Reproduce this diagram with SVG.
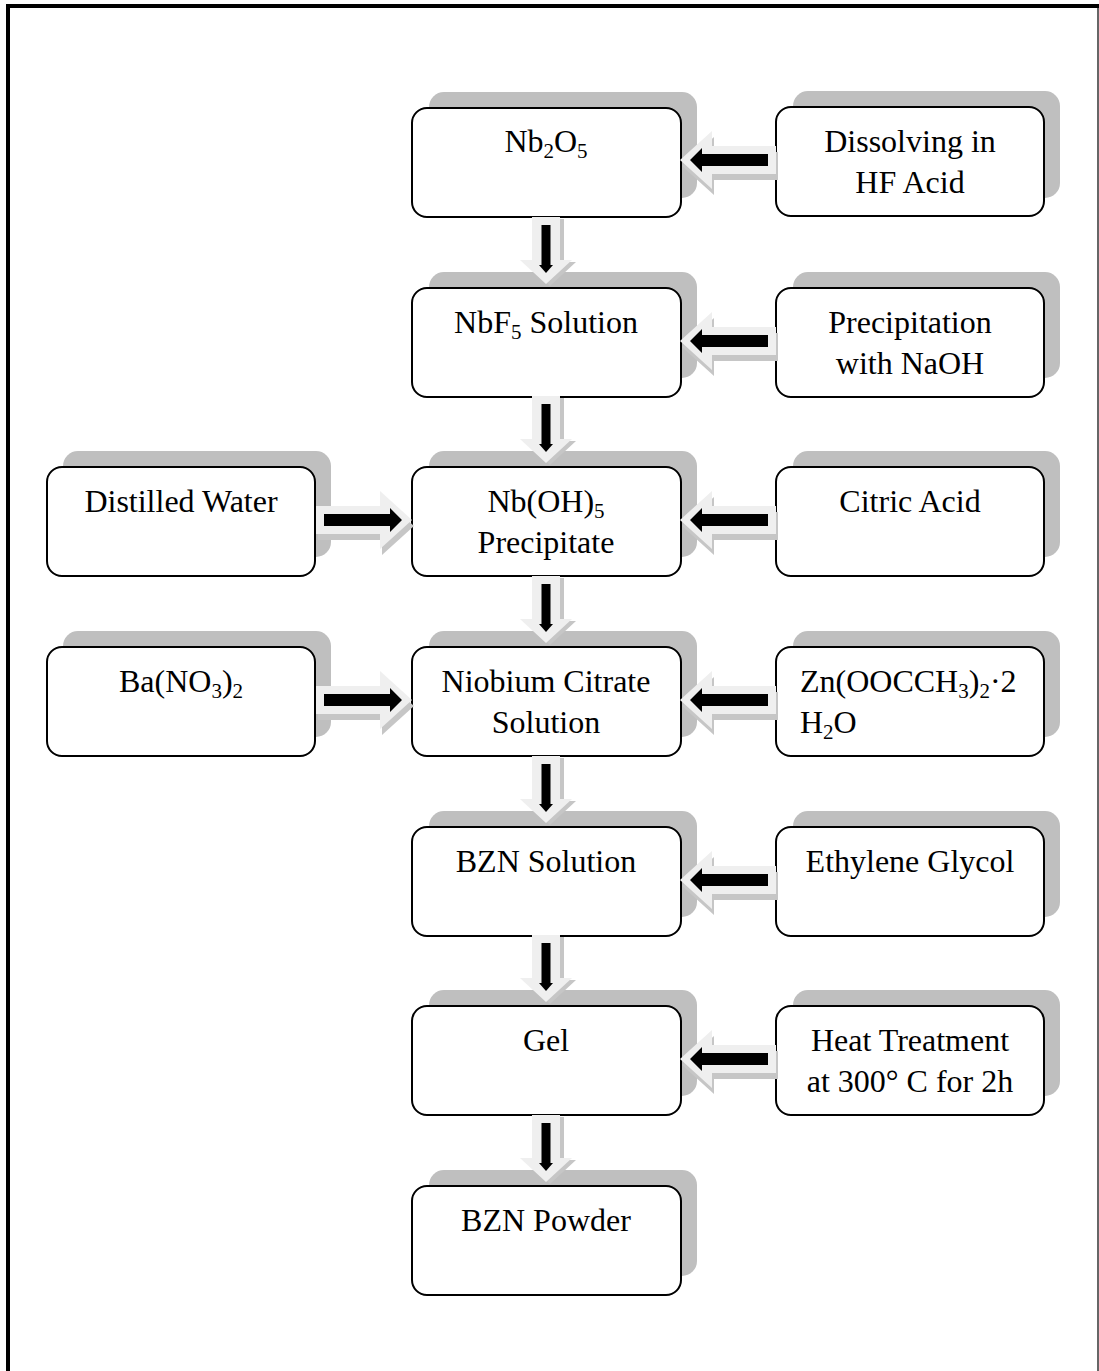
<svg xmlns="http://www.w3.org/2000/svg" xmlns:xlink="http://www.w3.org/1999/xlink" width="1099" height="1371" viewBox="0 0 1099 1371">
<style>
  .sh { fill: #bfbfbf; }
  .bx { fill: #ffffff; stroke: #000000; stroke-width: 2; }
  .t { font-family: "Liberation Serif", "Times New Roman", serif; font-size: 32px; fill: #000000; text-anchor: middle; }
  .tl { text-anchor: start; }
  .sub { font-size: 21px; }
  .al { fill: #efefef; }
  .as { fill: #c6c6c6; }
  .ab { fill: #000000; }
</style>
<defs>
  <path id="hL" d="M0,0 L32,-29 L32,-14 L96,-14 L96,14 L32,14 L32,29 Z"/>
  <path id="bL" d="M10,0 L22,-12 L22,-6 L88,-6 L88,6 L22,6 L22,12 Z"/>
  <path id="hD" d="M0,0 L-26,-24 L-14,-24 L-14,-67 L14,-67 L14,-24 L26,-24 Z"/>
  <path id="bD" d="M0,-11 L-7,-19 L-4.5,-19 L-4.5,-59 L4.5,-59 L4.5,-19 L7,-19 Z"/>
</defs>
<rect x="0" y="0" width="1099" height="1371" fill="#ffffff"/>
<path d="M8,1371 V6 H1099" fill="none" stroke="#000000" stroke-width="4"/>
<line x1="1098" y1="8" x2="1098" y2="1371" stroke="#666666" stroke-width="2"/>

<!-- main column -->
<g id="n-nb2o5">
  <rect class="sh" x="429" y="92" width="268" height="106" rx="15"/>
  <rect class="bx" x="412" y="108" width="269" height="109" rx="15"/>
  <text class="t" x="546" y="152">Nb<tspan class="sub" dy="6">2</tspan><tspan dy="-6">O</tspan><tspan class="sub" dy="6">5</tspan></text>
</g>
<g id="n-nbf5">
  <rect class="sh" x="429" y="272" width="268" height="106" rx="15"/>
  <rect class="bx" x="412" y="288" width="269" height="109" rx="15"/>
  <text class="t" x="546" y="333">NbF<tspan class="sub" dy="6">5</tspan><tspan dy="-6"> Solution</tspan></text>
</g>
<g id="n-nboh5">
  <rect class="sh" x="429" y="451" width="268" height="106" rx="15"/>
  <rect class="bx" x="412" y="467" width="269" height="109" rx="15"/>
  <text class="t" x="546" y="512">Nb(OH)<tspan class="sub" dy="6">5</tspan></text>
  <text class="t" x="546" y="553">Precipitate</text>
</g>
<g id="n-citrate">
  <rect class="sh" x="429" y="631" width="268" height="106" rx="15"/>
  <rect class="bx" x="412" y="647" width="269" height="109" rx="15"/>
  <text class="t" x="546" y="692">Niobium Citrate</text>
  <text class="t" x="546" y="733">Solution</text>
</g>
<g id="n-bznsol">
  <rect class="sh" x="429" y="811" width="268" height="106" rx="15"/>
  <rect class="bx" x="412" y="827" width="269" height="109" rx="15"/>
  <text class="t" x="546" y="872">BZN Solution</text>
</g>
<g id="n-gel">
  <rect class="sh" x="429" y="990" width="268" height="106" rx="15"/>
  <rect class="bx" x="412" y="1006" width="269" height="109" rx="15"/>
  <text class="t" x="546" y="1051">Gel</text>
</g>
<g id="n-powder">
  <rect class="sh" x="429" y="1170" width="268" height="106" rx="15"/>
  <rect class="bx" x="412" y="1186" width="269" height="109" rx="15"/>
  <text class="t" x="546" y="1231">BZN Powder</text>
</g>

<!-- right column -->
<g id="n-hf">
  <rect class="sh" x="793" y="91" width="267" height="107" rx="15"/>
  <rect class="bx" x="776" y="107" width="268" height="109" rx="15"/>
  <text class="t" x="910" y="152">Dissolving in</text>
  <text class="t" x="910" y="193">HF Acid</text>
</g>
<g id="n-naoh">
  <rect class="sh" x="793" y="272" width="267" height="106" rx="15"/>
  <rect class="bx" x="776" y="288" width="268" height="109" rx="15"/>
  <text class="t" x="910" y="333">Precipitation</text>
  <text class="t" x="910" y="374">with NaOH</text>
</g>
<g id="n-citric">
  <rect class="sh" x="793" y="451" width="267" height="106" rx="15"/>
  <rect class="bx" x="776" y="467" width="268" height="109" rx="15"/>
  <text class="t" x="910" y="512">Citric Acid</text>
</g>
<g id="n-zn">
  <rect class="sh" x="793" y="631" width="267" height="106" rx="15"/>
  <rect class="bx" x="776" y="647" width="268" height="109" rx="15"/>
  <text class="t tl" x="800" y="692">Zn(OOCCH<tspan class="sub" dy="6">3</tspan><tspan dy="-6">)</tspan><tspan class="sub" dy="6">2</tspan><tspan dy="-6">·2</tspan></text>
  <text class="t tl" x="800" y="733">H<tspan class="sub" dy="6">2</tspan><tspan dy="-6">O</tspan></text>
</g>
<g id="n-eg">
  <rect class="sh" x="793" y="811" width="267" height="106" rx="15"/>
  <rect class="bx" x="776" y="827" width="268" height="109" rx="15"/>
  <text class="t" x="910" y="872">Ethylene Glycol</text>
</g>
<g id="n-heat">
  <rect class="sh" x="793" y="990" width="267" height="106" rx="15"/>
  <rect class="bx" x="776" y="1006" width="268" height="109" rx="15"/>
  <text class="t" x="910" y="1051">Heat Treatment</text>
  <text class="t" x="910" y="1092">at 300° C for 2h</text>
</g>

<!-- left column -->
<g id="n-water">
  <rect class="sh" x="63" y="451" width="268" height="106" rx="15"/>
  <rect class="bx" x="47" y="467" width="268" height="109" rx="15"/>
  <text class="t" x="181" y="512">Distilled Water</text>
</g>
<g id="n-ba">
  <rect class="sh" x="63" y="631" width="268" height="106" rx="15"/>
  <rect class="bx" x="47" y="647" width="268" height="109" rx="15"/>
  <text class="t" x="181" y="692">Ba(NO<tspan class="sub" dy="6">3</tspan><tspan dy="-6">)</tspan><tspan class="sub" dy="6">2</tspan></text>
</g>

<!-- connectors -->
<g id="connectors">
  <g transform="translate(546,284)"><use href="#hD" class="as" transform="translate(4,2)"/><use href="#hD" class="al"/><use href="#bD" class="ab"/></g>
  <g transform="translate(546,463)"><use href="#hD" class="as" transform="translate(4,2)"/><use href="#hD" class="al"/><use href="#bD" class="ab"/></g>
  <g transform="translate(546,643)"><use href="#hD" class="as" transform="translate(4,2)"/><use href="#hD" class="al"/><use href="#bD" class="ab"/></g>
  <g transform="translate(546,823)"><use href="#hD" class="as" transform="translate(4,2)"/><use href="#hD" class="al"/><use href="#bD" class="ab"/></g>
  <g transform="translate(546,1002)"><use href="#hD" class="as" transform="translate(4,2)"/><use href="#hD" class="al"/><use href="#bD" class="ab"/></g>
  <g transform="translate(546,1182)"><use href="#hD" class="as" transform="translate(4,2)"/><use href="#hD" class="al"/><use href="#bD" class="ab"/></g>
  <g transform="translate(680,160)"><use href="#hL" class="as" transform="translate(2,6)"/><use href="#hL" class="al"/><use href="#bL" class="ab"/></g>
  <g transform="translate(680,341)"><use href="#hL" class="as" transform="translate(2,6)"/><use href="#hL" class="al"/><use href="#bL" class="ab"/></g>
  <g transform="translate(680,520)"><use href="#hL" class="as" transform="translate(2,6)"/><use href="#hL" class="al"/><use href="#bL" class="ab"/></g>
  <g transform="translate(680,700)"><use href="#hL" class="as" transform="translate(2,6)"/><use href="#hL" class="al"/><use href="#bL" class="ab"/></g>
  <g transform="translate(680,880)"><use href="#hL" class="as" transform="translate(2,6)"/><use href="#hL" class="al"/><use href="#bL" class="ab"/></g>
  <g transform="translate(680,1059)"><use href="#hL" class="as" transform="translate(2,6)"/><use href="#hL" class="al"/><use href="#bL" class="ab"/></g>
  <g transform="translate(412,520) scale(-1,1)"><use href="#hL" class="as" transform="translate(-2,6)"/><use href="#hL" class="al"/><use href="#bL" class="ab"/></g>
  <g transform="translate(412,700) scale(-1,1)"><use href="#hL" class="as" transform="translate(-2,6)"/><use href="#hL" class="al"/><use href="#bL" class="ab"/></g>
</g>
</svg>
